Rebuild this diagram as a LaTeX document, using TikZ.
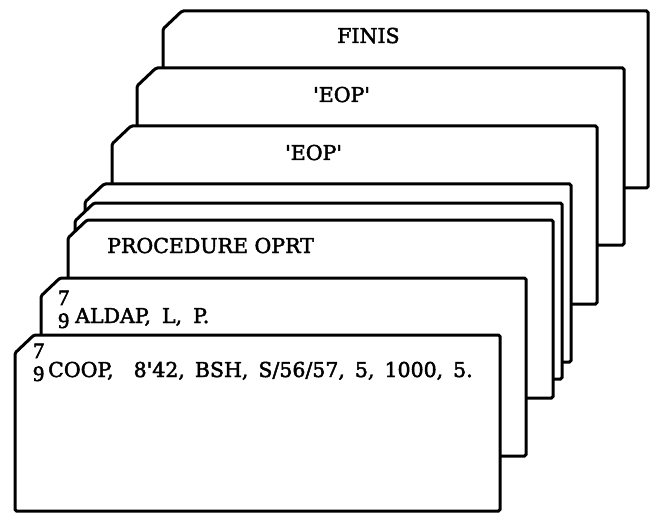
\documentclass[tikz,border=0pt]{standalone}
\usepackage{fontspec}
\setmainfont{DejaVu Serif}[FakeBold=2.2]
\newfontfamily\digitfont{Liberation Serif}[FakeBold=2.5]
\tikzset{
  cardbox/.style={draw=black, fill=white, line width=3pt, line join=miter, rounded corners=1.5pt},
  txt/.style={inner sep=0pt, anchor=base west, font=\fontsize{20.5}{20.5}\selectfont},
  digit/.style={inner sep=0pt, anchor=base west, font=\digitfont\fontsize{22}{22}\selectfont}
}
\newcommand\drawcard[4]{%
  \filldraw[cardbox] (#1,#4) -- (#1,{#2+18}) -- ({#1+19},#2) -- (#3,#2) -- (#3,#4) -- cycle;}
\begin{document}
\begin{tikzpicture}[x=1pt,y=-1pt]
\useasboundingbox (0,0) rectangle (650,513);
% cards, back to front: left, top, right, bottom
\drawcard{163}{11}{648}{188}
\drawcard{137}{68}{624}{245}
\drawcard{112}{126}{597}{304}
\drawcard{85}{184}{571}{362}
\drawcard{75}{203}{562}{379}
\drawcard{68}{220}{553}{398}
\drawcard{41}{278}{526}{456}
\drawcard{15}{335}{500}{511}
% texts
\node[txt] (finis) at (337,43) {FINIS};
\node[txt] (eop1) at (313,102) {\textquotesingle EOP\textquotesingle};
\node[txt] (eop2) at (285,160) {\textquotesingle EOP\textquotesingle};
\node[txt] (proc) at (107,253) {PROCEDURE OPRT};
\node[digit] (s7a) at (58,305) {7};
\node[digit] (s9a) at (58,328) {9};
\node[txt] (aldap) at (75,323) {\spaceskip=11pt ALDAP, L, P.};
\node[digit] (s7b) at (33,358) {7};
\node[digit] (s9b) at (33,381) {9};
\node[txt] (coop) at (48,377) {\spaceskip=10pt COOP,\ \ 8\textquotesingle 42, BSH, S/56/57, 5, 1000, 5.};
\end{tikzpicture}
\end{document}
